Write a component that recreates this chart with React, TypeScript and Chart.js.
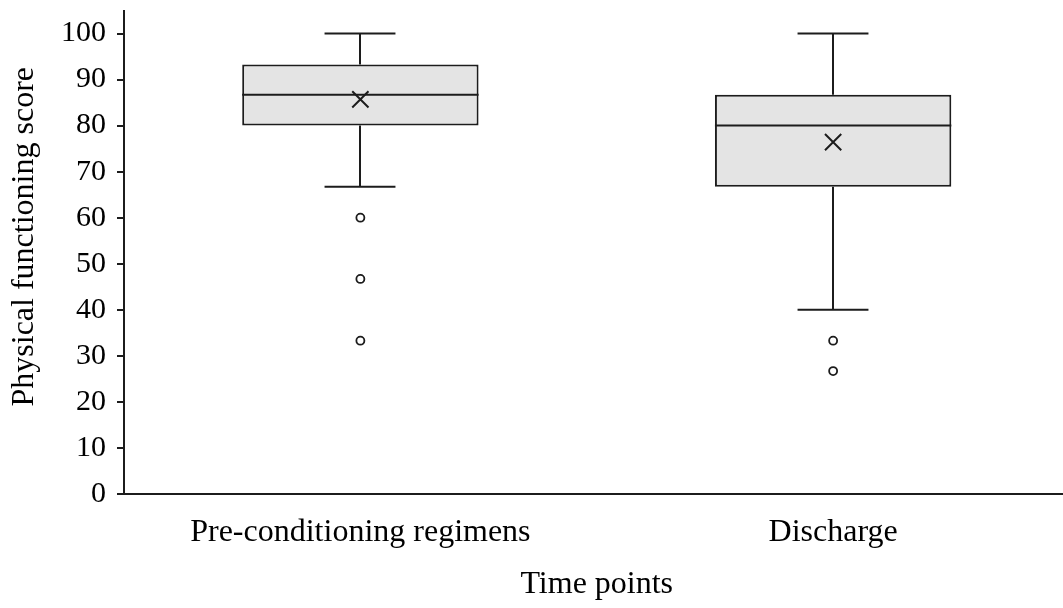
import React, { useEffect, useRef } from "react";
import { Chart, registerables } from "chart.js";

Chart.register(...registerables);

const categories = ["Pre-conditioning regimens", "Discharge"];
const whiskerMin = [66.7, 40];
const q1 = [80, 66.7];
const median = [86.7, 80];
const q3 = [93.3, 86.7];
const whiskerMax = [100, 100];
const means = [85.7, 76.4];
const outliersPre = [60, 46.7, 33.3];
const outliersDischarge = [33.3, 26.7];
const yTickValues = [0, 10, 20, 30, 40, 50, 60, 70, 80, 90, 100];

const yTitle = "Physical functioning score";
const xTitle = "Time points";

const LINE = "#1c1c1c";
const FILL = "#e4e4e4";
const FONT = "'Liberation Serif', 'Times New Roman', serif";
const FS = 32;
const CANVAS_W = 1083;
const CANVAS_H = 611;

const boxExtras = {
  id: "boxExtras",
  beforeDatasetsDraw(chart: any) {
    const meta = chart.getDatasetMeta(0);
    const y = chart.scales.y;
    const ctx = chart.ctx;
    ctx.save();
    ctx.strokeStyle = LINE;
    ctx.lineWidth = 2;
    meta.data.forEach((bar: any, i: number) => {
      const x = Math.round(bar.x);
      const capHalf = bar.width * 0.15;
      const yMax = y.getPixelForValue(whiskerMax[i]);
      const yMin = y.getPixelForValue(whiskerMin[i]);
      const yQ3 = y.getPixelForValue(q3[i]);
      const yQ1 = y.getPixelForValue(q1[i]);
      ctx.beginPath();
      ctx.moveTo(x, yMax);
      ctx.lineTo(x, yQ3);
      ctx.moveTo(x, yQ1);
      ctx.lineTo(x, yMin);
      ctx.moveTo(x - capHalf, yMax);
      ctx.lineTo(x + capHalf, yMax);
      ctx.moveTo(x - capHalf, yMin);
      ctx.lineTo(x + capHalf, yMin);
      ctx.stroke();
    });
    ctx.restore();
  },
  afterDatasetDraw(chart: any, args: any) {
    if (args.index !== 0) return;
    const meta = chart.getDatasetMeta(0);
    const y = chart.scales.y;
    const ctx = chart.ctx;
    ctx.save();
    ctx.strokeStyle = LINE;
    ctx.lineWidth = 2;
    meta.data.forEach((bar: any, i: number) => {
      const yMed = y.getPixelForValue(median[i]);
      ctx.beginPath();
      ctx.moveTo(bar.x - bar.width / 2, yMed);
      ctx.lineTo(bar.x + bar.width / 2, yMed);
      ctx.stroke();
    });
    ctx.restore();
  },
  afterDraw(chart: any) {
    const ctx = chart.ctx;
    const area = chart.chartArea;
    ctx.save();
    ctx.translate(33, (area.top + area.bottom) / 2 - 15.5);
    ctx.rotate(-Math.PI / 2);
    ctx.fillStyle = "#000";
    ctx.font = `${FS}px ${FONT}`;
    ctx.textAlign = "center";
    ctx.textBaseline = "alphabetic";
    ctx.fillText(yTitle, 0, 0);
    ctx.restore();
  },
};

export default function App() {
  const ref = useRef<HTMLCanvasElement>(null);
  useEffect(() => {
    document.body.style.margin = "0";
    const outlierPoints = [
      ...outliersPre.map((v) => ({ x: categories[0], y: v })),
      ...outliersDischarge.map((v) => ({ x: categories[1], y: v })),
    ];
    const chart = new Chart(ref.current as HTMLCanvasElement, {
      type: "bar",
      data: {
        labels: categories,
        datasets: [
          {
            type: "bar",
            data: categories.map((_, i) => [q1[i], q3[i]]),
            backgroundColor: FILL,
            borderColor: LINE,
            borderWidth: 2,
            borderSkipped: false,
            categoryPercentage: 1,
            barPercentage: 0.5,
            order: 3,
          } as any,
          {
            type: "line",
            data: means,
            showLine: false,
            pointStyle: "crossRot",
            pointRadius: 11.5,
            pointBorderColor: LINE,
            pointBorderWidth: 2,
            pointBackgroundColor: LINE,
            order: 1,
          } as any,
          {
            type: "line",
            data: outlierPoints,
            showLine: false,
            pointStyle: "circle",
            pointRadius: 4,
            pointBorderColor: LINE,
            pointBorderWidth: 1.8,
            pointBackgroundColor: "#ffffff",
            order: 2,
          } as any,
        ],
      },
      options: {
        responsive: false,
        animation: false,
        devicePixelRatio: 1,
        layout: { padding: { top: 10, right: 0, bottom: 0, left: 0 } },
        plugins: { legend: { display: false }, tooltip: { enabled: false } },
        scales: {
          x: {
            offset: true,
            grid: { display: false, drawTicks: false },
            border: { display: true, color: LINE, width: 2 },
            ticks: { color: "#000", font: { family: FONT, size: FS }, padding: 19, maxRotation: 0, autoSkip: false },
            title: {
              display: true,
              text: xTitle,
              color: "#000",
              font: { family: FONT, size: FS },
              padding: { top: 16, bottom: 4 },
            },
            afterFit: (scale: any) => {
              scale.height = 114;
              scale.paddingLeft = 0;
              scale.paddingRight = 0;
            },
          },
          y: {
            min: 0,
            max: 105,
            grid: { display: true, drawOnChartArea: false, drawTicks: true, tickLength: 7, color: LINE, lineWidth: 2 },
            border: { display: true, color: LINE, width: 2 },
            afterBuildTicks: (scale: any) => {
              scale.ticks = yTickValues.map((v) => ({ value: v }));
            },
            ticks: { color: "#000", font: { family: FONT, size: 30 }, padding: 11, autoSkip: false },
            title: { display: false, text: yTitle },
            afterFit: (scale: any) => {
              scale.width = 124;
              scale.paddingTop = 0;
              scale.paddingBottom = 0;
            },
          },
        },
      },
      plugins: [boxExtras],
    });
    return () => chart.destroy();
  }, []);
  return (
    <div style={{ width: 1063, height: 608, overflow: "hidden" }}>
      <canvas ref={ref} width={CANVAS_W} height={CANVAS_H} style={{ display: "block", marginTop: -3 }} />
    </div>
  );
}
